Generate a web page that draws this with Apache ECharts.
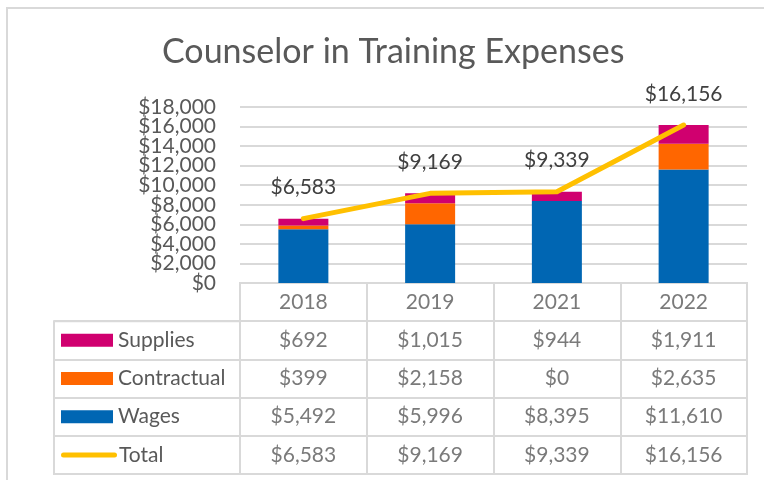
<!DOCTYPE html>
<html>
<head>
<meta charset="utf-8">
<script src="https://cdn.jsdelivr.net/npm/echarts@6/dist/echarts.min.js"></script>
<style>
  html, body { margin: 0; padding: 0; background: #ffffff; }
  #wrap { position: relative; width: 764px; height: 480px; overflow: hidden; }
  #frame { position: absolute; left: 6px; top: 7px; width: 800px; height: 520px; border: 2px solid #d9d9d9; box-sizing: border-box; }
  #main { position: absolute; left: 0; top: 0; width: 764px; height: 480px; }
</style>
</head>
<body>
<div id="wrap">
  <div id="frame"></div>
  <div id="main"></div>
</div>
<script>
const title = 'Counselor in Training Expenses';
const years = ['2018', '2019', '2021', '2022'];
const supplies = [692, 1015, 944, 1911];
const contractual = [399, 2158, 0, 2635];
const wages = [5492, 5996, 8395, 11610];
const total = [6583, 9169, 9339, 16156];
const rowNames = ['Supplies', 'Contractual', 'Wages', 'Total'];
const yMin = 0, yMax = 18000, yStep = 2000;

const colors = { Supplies: '#D0006F', Contractual: '#FF6600', Wages: '#0066B3', Total: '#FFC000' };
const FONT = 'Lato';
const TXT = '#595959';
const GRIDC = '#d9d9d9';

const money = v => '$' + v.toLocaleString('en-US');
const rowValues = { Supplies: supplies, Contractual: contractual, Wages: wages, Total: total };

// table cells built from the arrays
const tableRows = ['header'].concat(rowNames);
const cells = [];
years.forEach((y, i) => cells.push({ name: y, value: [i, 0] }));
rowNames.forEach((r, ri) => {
  rowValues[r].forEach((v, i) => cells.push({ name: money(v), value: [i, ri + 1] }));
});

const rich = {
  t: { fontFamily: FONT, fontSize: 21, color: TXT, padding: [0, 0, 0, 5] },
  tT: { fontFamily: FONT, fontSize: 21, color: TXT, padding: [0, 0, 0, 2] }
};
rowNames.forEach(r => {
  if (r === 'Total') {
    rich['k' + r] = { width: 56, height: 5, backgroundColor: colors[r], borderRadius: 3 };
  } else {
    rich['k' + r] = { width: 52, height: 13, backgroundColor: colors[r] };
  }
});

// the tick labels are dense (they touch), so they are split over two overlaid axes
// with the same scale to stop the library from dropping any of them
const yLabel = (even) => ({
  formatter: v => ((Math.round(v / yStep) % 2 === 0) === even ? money(v) : ''),
  fontFamily: FONT, fontSize: 21, color: TXT, margin: 24,
  showMinLabel: true, showMaxLabel: true, hideOverlap: false
});

const chart = echarts.init(document.getElementById('main'), null, { renderer: 'canvas' });
chart.setOption({
  animation: false,
  backgroundColor: 'transparent',
  title: {
    text: title, left: 157, top: 30,
    textStyle: { fontFamily: FONT, fontSize: 34, fontWeight: 'normal', color: TXT }
  },
  grid: [
    { left: 240, top: 107, width: 507, height: 176 },
    { left: 240, top: 283, width: 507, height: 191, show: true, borderColor: GRIDC, borderWidth: 2 },
    { left: 54, top: 321.2, width: 186, height: 152.8, show: true, borderColor: GRIDC, borderWidth: 2 }
  ],
  xAxis: [
    { gridIndex: 0, type: 'category', data: years, axisLine: { show: false }, axisTick: { show: false }, axisLabel: { show: false } },
    { gridIndex: 1, type: 'category', data: years, axisLine: { show: false }, axisTick: { show: false }, axisLabel: { show: false },
      splitLine: { show: true, interval: 0, lineStyle: { color: GRIDC, width: 2 } } },
    { gridIndex: 2, type: 'category', data: [''], axisLine: { show: false }, axisTick: { show: false }, axisLabel: { show: false } }
  ],
  yAxis: [
    { gridIndex: 0, type: 'value', position: 'left', offset: 0, min: yMin, max: yMax, interval: yStep,
      axisLine: { show: false }, axisTick: { show: false }, axisLabel: yLabel(true),
      splitLine: { show: true, lineStyle: { color: GRIDC, width: 2 } } },
    { gridIndex: 0, type: 'value', position: 'left', offset: 0, min: yMin, max: yMax, interval: yStep,
      axisLine: { show: false }, axisTick: { show: false }, axisLabel: yLabel(false),
      splitLine: { show: false } },
    { gridIndex: 1, type: 'category', inverse: true, data: tableRows, axisLine: { show: false }, axisTick: { show: false }, axisLabel: { show: false },
      splitLine: { show: true, interval: 0, lineStyle: { color: GRIDC, width: 2 } } },
    { gridIndex: 2, type: 'category', inverse: true, data: rowNames, axisLine: { show: false }, axisTick: { show: false },
      axisLabel: { inside: true, margin: 7, interval: 0,
        formatter: v => '{k' + v + '|}{' + (v === 'Total' ? 'tT' : 't') + '|' + v + '}', rich: rich },
      splitLine: { show: true, interval: 0, lineStyle: { color: GRIDC, width: 2 } } }
  ],
  series: [
    { name: 'Wages', type: 'bar', stack: 's', xAxisIndex: 0, yAxisIndex: 0, data: wages, barWidth: 50, itemStyle: { color: colors.Wages } },
    { name: 'Contractual', type: 'bar', stack: 's', xAxisIndex: 0, yAxisIndex: 0, data: contractual, barWidth: 50, itemStyle: { color: colors.Contractual } },
    { name: 'Supplies', type: 'bar', stack: 's', xAxisIndex: 0, yAxisIndex: 0, data: supplies, barWidth: 50, itemStyle: { color: colors.Supplies } },
    { name: 'Total', type: 'line', xAxisIndex: 0, yAxisIndex: 0, data: total, symbol: 'circle', symbolSize: 3, showSymbol: true, z: 5,
      itemStyle: { color: colors.Total },
      lineStyle: { color: colors.Total, width: 5, cap: 'round', join: 'round' },
      labelLayout: { hideOverlap: false },
      label: { show: true, position: 'top', distance: 19, formatter: p => money(p.value), fontFamily: FONT, fontSize: 21, color: '#404040' } },
    { name: 'table', type: 'scatter', xAxisIndex: 1, yAxisIndex: 2, data: cells, symbolSize: 0, silent: true,
      label: { show: true, position: 'inside', formatter: p => p.name, fontFamily: FONT, fontSize: 21, color: TXT } }
  ]
});
</script>
</body>
</html>
